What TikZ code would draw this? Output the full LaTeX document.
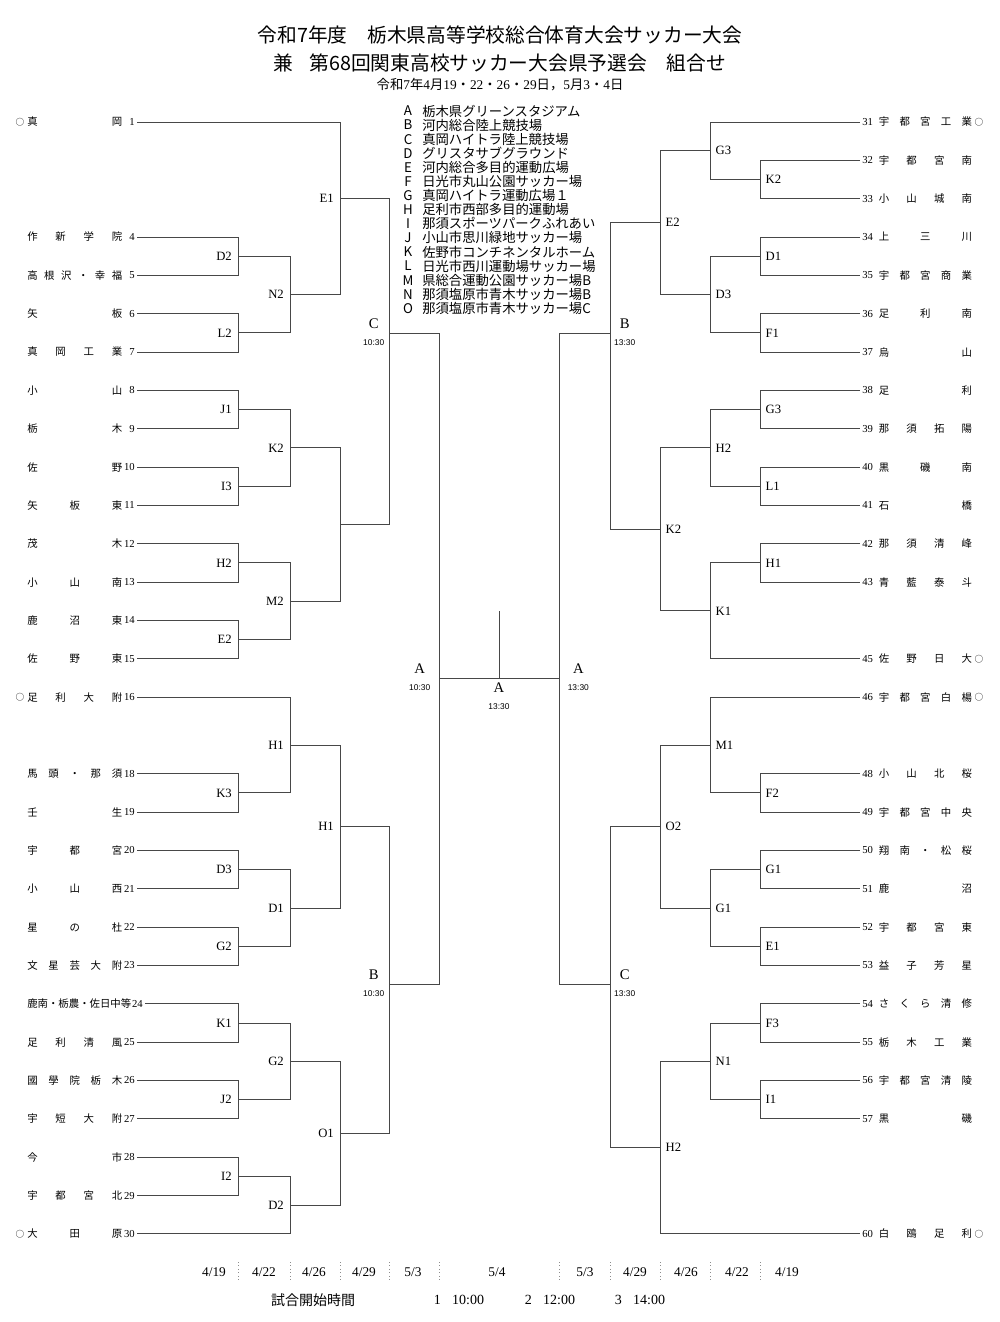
\documentclass[tikz,border=0pt]{standalone}
\usepackage{fontspec}
\setmainfont{Liberation Serif}
\newfontfamily\jpf{Noto Sans CJK JP}
\newfontfamily\arf{Liberation Sans}
\usetikzlibrary{calc}
\def\ksEnd{}
\def\kspread#1{\ksA#1\ksEnd}
\def\ksA#1#2{#1\ifx\ksEnd#2\else\hfil\expandafter\ksA\expandafter#2\fi}
\tikzset{
  br/.style={draw=black!72, line width=0.7pt},
  tnum/.style={inner sep=0pt, font=\fontsize{8}{9}\selectfont},
  tname/.style={inner sep=0pt, font=\jpf\fontsize{7.8}{9}\selectfont},
  seedmark/.style={inner sep=0pt, font=\jpf\fontsize{6.5}{8}\selectfont},
  mlab/.style={inner sep=0pt, font=\fontsize{9.5}{11}\selectfont},
  blab/.style={inner sep=0pt, font=\fontsize{11}{13}\selectfont},
  tlab/.style={inner sep=0pt, font=\arf\fontsize{6.3}{8}\selectfont},
  venletter/.style={inner sep=0pt, font=\jpf\fontsize{10}{11}\selectfont},
  ventext/.style={inner sep=0pt, anchor=west, font=\jpf\fontsize{10}{11}\selectfont},
  datelab/.style={inner sep=0pt, font=\fontsize{10}{12}\selectfont},
  sepline/.style={draw=black!45, dotted, line width=0.6pt},
}
\newcommand\lteam[2]{%
  \node[tnum,anchor=east] (n#1) at (135,{122+(#1-1)*38.34}) {#1};
  \node[tname,anchor=west] (nm#1) at (27,{122+(#1-1)*38.34}) {\hbox to 71.25pt{\kspread{#2}}};
  \coordinate (t#1) at ([xshift=1.5pt]n#1.east);}
\newcommand\rteam[2]{%
  \node[tnum,anchor=west] (n#1) at (862,{122+(#1-31)*38.34}) {#1};
  \node[tname,anchor=west] (nm#1) at (878.5,{122+(#1-31)*38.34}) {\hbox to 70pt{\kspread{#2}}};
  \coordinate (t#1) at ([xshift=-1.5pt]n#1.west);}
\newcommand\bmid[4]{%
  \draw[br] (#2) -- (#2 -| #1) -- (#3 -| #1) -- (#3);
  \coordinate (#4) at ($(#2 -| #1)!0.5!(#3 -| #1)$);}
\newcommand\bfix[5]{%
  \draw[br] (#2) -- (#2 -| #1) -- (#3 -| #1) -- (#3);
  \coordinate (#4) at ($(#1)+(0,#5)$);}
\newcommand\lml[2]{\node[mlab,anchor=east] (lb-#1) at ([xshift=-4.5pt]#1) {#2};}
\newcommand\rml[2]{\node[mlab,anchor=west] (lb-#1) at ([xshift=4pt]#1) {#2};}
\begin{document}
\begin{tikzpicture}[x=0.75pt,y=-0.75pt]
\useasboundingbox (0,0) rectangle (1000,1322);
\fill[white] (0,0) rectangle (1000,1322);

% titles
\node[font=\jpf\fontsize{14.8}{16}\selectfont] (title1) at (500,35) {令和7年度\hspace{1em}栃木県高等学校総合体育大会サッカー大会};
\node[font=\jpf\fontsize{14.8}{16}\selectfont] (title2) at (500,63) {兼\hspace{0.8em}第68回関東高校サッカー大会県予選会\hspace{1em}組合せ};
\node[font=\fontsize{10}{12}\selectfont] (title3) at (500,85) {{\jpf 令和}7{\jpf 年}4{\jpf 月}19{\jpf ・}22{\jpf ・}26{\jpf ・}29{\jpf 日，}5{\jpf 月}3{\jpf ・}4{\jpf 日}};

% venues
\foreach \L/\T [count=\i from 0] in {A/栃木県グリーンスタジアム,B/河内総合陸上競技場,C/真岡ハイトラ陸上競技場,D/グリスタサブグラウンド,E/河内総合多目的運動広場,F/日光市丸山公園サッカー場,G/真岡ハイトラ運動広場１,H/足利市西部多目的運動場,I/那須スポーツパークふれあい,J/小山市思川緑地サッカー場,K/佐野市コンチネンタルホーム,L/日光市西川運動場サッカー場,M/県総合運動公園サッカー場B,N/那須塩原市青木サッカー場B,O/那須塩原市青木サッカー場C}{
  \node[venletter] (vl\i) at (408,{111+\i*14.1}) {\L};
  \node[ventext] (vt\i) at (422,{111+\i*14.1}) {\T};
}

% columns
\coordinate (cL1) at (238,0); \coordinate (cL2) at (290,0); \coordinate (cL3) at (340,0);
\coordinate (cL4) at (389,0); \coordinate (cL5) at (439,0);
\coordinate (cR1) at (760,0); \coordinate (cR2) at (710,0); \coordinate (cR3) at (660,0);
\coordinate (cR4) at (610,0); \coordinate (cR5) at (559,0);

% left teams
\lteam{1}{真岡}
\lteam{4}{作新学院}
\lteam{5}{高根沢・幸福}
\lteam{6}{矢板}
\lteam{7}{真岡工業}
\lteam{8}{小山}
\lteam{9}{栃木}
\lteam{10}{佐野}
\lteam{11}{矢板東}
\lteam{12}{茂木}
\lteam{13}{小山南}
\lteam{14}{鹿沼東}
\lteam{15}{佐野東}
\lteam{16}{足利大附}
\lteam{18}{馬頭・那須}
\lteam{19}{壬生}
\lteam{20}{宇都宮}
\lteam{21}{小山西}
\lteam{22}{星の杜}
\lteam{23}{文星芸大附}
\node[tnum,anchor=east] (n24) at (143,{122+23*38.34}) {24};
\node[tname,anchor=west] (nm24) at (27,{122+23*38.34}) {\hbox to 78pt{\kspread{鹿南・栃農・佐日中等}}};
\coordinate (t24) at ([xshift=1.5pt]n24.east);
\lteam{25}{足利清風}
\lteam{26}{國學院栃木}
\lteam{27}{宇短大附}
\lteam{28}{今市}
\lteam{29}{宇都宮北}
\lteam{30}{大田原}
\node[seedmark] (s1) at (20,122) {○};
\node[seedmark] (s16) at (20,{122+15*38.34}) {○};
\node[seedmark] (s30) at (20,{122+29*38.34}) {○};

% right teams
\rteam{31}{宇都宮工業}
\rteam{32}{宇都宮南}
\rteam{33}{小山城南}
\rteam{34}{上三川}
\rteam{35}{宇都宮商業}
\rteam{36}{足利南}
\rteam{37}{烏山}
\rteam{38}{足利}
\rteam{39}{那須拓陽}
\rteam{40}{黒磯南}
\rteam{41}{石橋}
\rteam{42}{那須清峰}
\rteam{43}{青藍泰斗}
\rteam{45}{佐野日大}
\rteam{46}{宇都宮白楊}
\rteam{48}{小山北桜}
\rteam{49}{宇都宮中央}
\rteam{50}{翔南・松桜}
\rteam{51}{鹿沼}
\rteam{52}{宇都宮東}
\rteam{53}{益子芳星}
\rteam{54}{さくら清修}
\rteam{55}{栃木工業}
\rteam{56}{宇都宮清陵}
\rteam{57}{黒磯}
\rteam{60}{白鴎足利}
\node[seedmark] (s31) at (979,122) {○};
\node[seedmark] (s45) at (979,{122+14*38.34}) {○};
\node[seedmark] (s46) at (979,{122+15*38.34}) {○};
\node[seedmark] (s60) at (979,{122+29*38.34}) {○};

% left bracket, round 1
\bmid{cL1}{t4}{t5}{lD2}   \lml{lD2}{D2}
\bmid{cL1}{t6}{t7}{lL2}   \lml{lL2}{L2}
\bmid{cL1}{t8}{t9}{lJ1}   \lml{lJ1}{J1}
\bmid{cL1}{t10}{t11}{lI3} \lml{lI3}{I3}
\bmid{cL1}{t12}{t13}{lH2} \lml{lH2}{H2}
\bmid{cL1}{t14}{t15}{lE2} \lml{lE2}{E2}
\bmid{cL1}{t18}{t19}{lK3} \lml{lK3}{K3}
\bmid{cL1}{t20}{t21}{lD3} \lml{lD3}{D3}
\bmid{cL1}{t22}{t23}{lG2} \lml{lG2}{G2}
\bmid{cL1}{t24}{t25}{lK1} \lml{lK1}{K1}
\bmid{cL1}{t26}{t27}{lJ2} \lml{lJ2}{J2}
\bmid{cL1}{t28}{t29}{lI2} \lml{lI2}{I2}
% round 2
\bmid{cL2}{lD2}{lL2}{lN2}  \lml{lN2}{N2}
\bmid{cL2}{lJ1}{lI3}{lK2}  \lml{lK2}{K2}
\bmid{cL2}{lH2}{lE2}{lM2}  \lml{lM2}{M2}
\bmid{cL2}{t16}{lK3}{lH1}  \lml{lH1}{H1}
\bmid{cL2}{lD3}{lG2}{lD1}  \lml{lD1}{D1}
\bmid{cL2}{lK1}{lJ2}{lG2b} \lml{lG2b}{G2}
\bmid{cL2}{lI2}{t30}{lD2b} \lml{lD2b}{D2}
% round 3
\bfix{cL3}{t1}{lN2}{lE1}{198.7} \lml{lE1}{E1}
\bmid{cL3}{lK2}{lM2}{lX}
\bmid{cL3}{lH1}{lD1}{lH1b} \lml{lH1b}{H1}
\bmid{cL3}{lG2b}{lD2b}{lO1} \lml{lO1}{O1}
% round 4
\bfix{cL4}{lE1}{lX}{lC}{333}
\bfix{cL4}{lH1b}{lO1}{lB}{984}
\node[blab] (lbC) at ([xshift=-11.5pt,yshift=7pt]lC) {C};
\node[tlab] (tmC) at ([xshift=-11.5pt,yshift=-7.5pt]lC) {10:30};
\node[blab] (lbB) at ([xshift=-11.5pt,yshift=7pt]lB) {B};
\node[tlab] (tmB) at ([xshift=-11.5pt,yshift=-7.5pt]lB) {10:30};
% round 5
\bfix{cL5}{lC}{lB}{lA}{678}
\node[blab] (lbA) at ([xshift=-14.5pt,yshift=7pt]lA) {A};
\node[tlab] (tmA) at ([xshift=-14.5pt,yshift=-7.5pt]lA) {10:30};

% right bracket, round 1
\bmid{cR1}{t32}{t33}{rK2} \rml{rK2}{K2}
\bmid{cR1}{t34}{t35}{rD1} \rml{rD1}{D1}
\bmid{cR1}{t36}{t37}{rF1} \rml{rF1}{F1}
\bmid{cR1}{t38}{t39}{rG3} \rml{rG3}{G3}
\bmid{cR1}{t40}{t41}{rL1} \rml{rL1}{L1}
\bmid{cR1}{t42}{t43}{rH1} \rml{rH1}{H1}
\bmid{cR1}{t48}{t49}{rF2} \rml{rF2}{F2}
\bmid{cR1}{t50}{t51}{rG1} \rml{rG1}{G1}
\bmid{cR1}{t52}{t53}{rE1} \rml{rE1}{E1}
\bmid{cR1}{t54}{t55}{rF3} \rml{rF3}{F3}
\bmid{cR1}{t56}{t57}{rI1} \rml{rI1}{I1}
% round 2
\bmid{cR2}{t31}{rK2}{rG3a} \rml{rG3a}{G3}
\bmid{cR2}{rD1}{rF1}{rD3}  \rml{rD3}{D3}
\bmid{cR2}{rG3}{rL1}{rH2}  \rml{rH2}{H2}
\bmid{cR2}{rH1}{t45}{rK1}  \rml{rK1}{K1}
\bmid{cR2}{t46}{rF2}{rM1}  \rml{rM1}{M1}
\bmid{cR2}{rG1}{rE1}{rG1b} \rml{rG1b}{G1}
\bmid{cR2}{rF3}{rI1}{rN1}  \rml{rN1}{N1}
% round 3
\bmid{cR3}{rG3a}{rD3}{rE2} \rml{rE2}{E2}
\bmid{cR3}{rH2}{rK1}{rK2b} \rml{rK2b}{K2}
\bmid{cR3}{rM1}{rG1b}{rO2} \rml{rO2}{O2}
\bmid{cR3}{rN1}{t60}{rH2b} \rml{rH2b}{H2}
% round 4
\bfix{cR4}{rE2}{rK2b}{rB}{333}
\bfix{cR4}{rO2}{rH2b}{rC}{984}
\node[blab] (rbB) at ([xshift=11pt,yshift=7pt]rB) {B};
\node[tlab] (rtB) at ([xshift=11pt,yshift=-7.5pt]rB) {13:30};
\node[blab] (rbC) at ([xshift=11pt,yshift=7pt]rC) {C};
\node[tlab] (rtC) at ([xshift=11pt,yshift=-7.5pt]rC) {13:30};
% round 5
\bfix{cR5}{rB}{rC}{rA}{678}
\node[blab] (rbA) at ([xshift=14.5pt,yshift=7pt]rA) {A};
\node[tlab] (rtA) at ([xshift=14.5pt,yshift=-7.5pt]rA) {13:30};

% final
\draw[br] (lA) -- (rA);
\coordinate (ftop) at (499,611);
\coordinate (fmid) at (499,678);
\draw[br] (ftop) -- (fmid);
\node[blab] (fA) at (499,688) {A};
\node[tlab] (ftA) at (499,707) {13:30};

% dates
\foreach \xx in {238,290,340,389,439,559,610,660,710,760}{
  \draw[sepline] (\xx,1262) -- (\xx,1282);
}
\foreach \xx/\dd [count=\k] in {214/4\slash 19,264/4\slash 22,314/4\slash 26,364/4\slash 29,413/5\slash 3,497/5\slash 4,585/5\slash 3,635/4\slash 29,686/4\slash 26,737/4\slash 22,787/4\slash 19}{
  \node[datelab] (dt\k) at (\xx,1272) {\dd};
}
\node[font=\jpf\fontsize{10.5}{12}\selectfont] (kickoff) at (313,1300) {試合開始時間};
\node[font=\fontsize{10.5}{12}\selectfont] (k1) at (459,1300) {1\hspace{0.8em}10:00};
\node[font=\fontsize{10.5}{12}\selectfont] (k2) at (550,1300) {2\hspace{0.8em}12:00};
\node[font=\fontsize{10.5}{12}\selectfont] (k3) at (640,1300) {3\hspace{0.8em}14:00};
\end{tikzpicture}
\end{document}
